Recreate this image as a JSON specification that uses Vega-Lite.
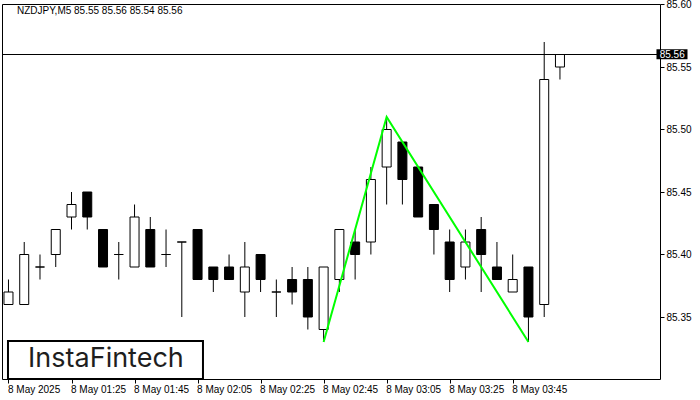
{
  "$schema": "https://vega.github.io/schema/vega-lite/v6.json",
  "width": 658,
  "height": 375,
  "autosize": {"type": "none"},
  "padding": {"left": 2, "top": 4, "right": 40, "bottom": 21},
  "background": "white",
  "config": {"view": {"stroke": "black", "strokeWidth": 1}, "font": "Liberation Sans"},
  "title": {"text": "NZDJPY,M5  85.55 85.56 85.54 85.56", "anchor": "start", "frame": "group", "orient": "top", "offset": -16, "dx": 15, "fontSize": 10, "fontWeight": "normal", "font": "Liberation Sans", "color": "black"},
  "datasets": {
    "candles": [
      {"t": "2025-05-08T01:05:00Z", "open": 85.36, "high": 85.38, "low": 85.36, "close": 85.37},
      {"t": "2025-05-08T01:10:00Z", "open": 85.36, "high": 85.41, "low": 85.36, "close": 85.40},
      {"t": "2025-05-08T01:15:00Z", "open": 85.39, "high": 85.40, "low": 85.38, "close": 85.39},
      {"t": "2025-05-08T01:20:00Z", "open": 85.40, "high": 85.42, "low": 85.39, "close": 85.42},
      {"t": "2025-05-08T01:25:00Z", "open": 85.43, "high": 85.45, "low": 85.42, "close": 85.44},
      {"t": "2025-05-08T01:30:00Z", "open": 85.45, "high": 85.45, "low": 85.42, "close": 85.43},
      {"t": "2025-05-08T01:35:00Z", "open": 85.42, "high": 85.42, "low": 85.39, "close": 85.39},
      {"t": "2025-05-08T01:40:00Z", "open": 85.40, "high": 85.41, "low": 85.38, "close": 85.40},
      {"t": "2025-05-08T01:45:00Z", "open": 85.39, "high": 85.44, "low": 85.39, "close": 85.43},
      {"t": "2025-05-08T01:50:00Z", "open": 85.42, "high": 85.43, "low": 85.39, "close": 85.39},
      {"t": "2025-05-08T01:55:00Z", "open": 85.40, "high": 85.42, "low": 85.39, "close": 85.40},
      {"t": "2025-05-08T02:00:00Z", "open": 85.41, "high": 85.41, "low": 85.35, "close": 85.41},
      {"t": "2025-05-08T02:05:00Z", "open": 85.42, "high": 85.42, "low": 85.38, "close": 85.38},
      {"t": "2025-05-08T02:10:00Z", "open": 85.39, "high": 85.39, "low": 85.37, "close": 85.38},
      {"t": "2025-05-08T02:15:00Z", "open": 85.39, "high": 85.40, "low": 85.38, "close": 85.38},
      {"t": "2025-05-08T02:20:00Z", "open": 85.37, "high": 85.41, "low": 85.35, "close": 85.39},
      {"t": "2025-05-08T02:25:00Z", "open": 85.40, "high": 85.40, "low": 85.37, "close": 85.38},
      {"t": "2025-05-08T02:30:00Z", "open": 85.37, "high": 85.38, "low": 85.35, "close": 85.37},
      {"t": "2025-05-08T02:35:00Z", "open": 85.38, "high": 85.39, "low": 85.36, "close": 85.37},
      {"t": "2025-05-08T02:40:00Z", "open": 85.38, "high": 85.39, "low": 85.34, "close": 85.35},
      {"t": "2025-05-08T02:45:00Z", "open": 85.34, "high": 85.39, "low": 85.33, "close": 85.39},
      {"t": "2025-05-08T02:50:00Z", "open": 85.38, "high": 85.42, "low": 85.37, "close": 85.42},
      {"t": "2025-05-08T02:55:00Z", "open": 85.41, "high": 85.42, "low": 85.38, "close": 85.40},
      {"t": "2025-05-08T03:00:00Z", "open": 85.41, "high": 85.47, "low": 85.40, "close": 85.46},
      {"t": "2025-05-08T03:05:00Z", "open": 85.47, "high": 85.51, "low": 85.44, "close": 85.50},
      {"t": "2025-05-08T03:10:00Z", "open": 85.49, "high": 85.49, "low": 85.44, "close": 85.46},
      {"t": "2025-05-08T03:15:00Z", "open": 85.47, "high": 85.47, "low": 85.43, "close": 85.43},
      {"t": "2025-05-08T03:20:00Z", "open": 85.44, "high": 85.44, "low": 85.40, "close": 85.42},
      {"t": "2025-05-08T03:25:00Z", "open": 85.41, "high": 85.42, "low": 85.37, "close": 85.38},
      {"t": "2025-05-08T03:30:00Z", "open": 85.39, "high": 85.42, "low": 85.38, "close": 85.41},
      {"t": "2025-05-08T03:35:00Z", "open": 85.42, "high": 85.43, "low": 85.37, "close": 85.40},
      {"t": "2025-05-08T03:40:00Z", "open": 85.39, "high": 85.41, "low": 85.38, "close": 85.38},
      {"t": "2025-05-08T03:45:00Z", "open": 85.37, "high": 85.40, "low": 85.37, "close": 85.38},
      {"t": "2025-05-08T03:50:00Z", "open": 85.39, "high": 85.39, "low": 85.33, "close": 85.35},
      {"t": "2025-05-08T03:55:00Z", "open": 85.36, "high": 85.57, "low": 85.35, "close": 85.54},
      {"t": "2025-05-08T04:00:00Z", "open": 85.55, "high": 85.56, "low": 85.54, "close": 85.56}
    ],
    "pattern": [
      {"t": "2025-05-08T02:45:00Z", "p": 85.33},
      {"t": "2025-05-08T03:05:00Z", "p": 85.51},
      {"t": "2025-05-08T03:50:00Z", "p": 85.33}
    ],
    "last": [{"price": 85.56, "label": "85.56"}]
  },
  "layer": [
    {
      "data": {"name": "candles"},
      "mark": {"type": "rule", "stroke": "black", "strokeWidth": 1, "clip": true},
      "encoding": {
        "x": {
          "field": "t", "type": "temporal", "title": null,
          "scale": {"type": "utc", "domain": [1746666271875, 1746678609375]},
          "axis": {
            "orient": "bottom", "title": null, "grid": false, "domain": false,
            "values": [1746666300000, 1746667500000, 1746668700000, 1746669900000, 1746671100000, 1746672300000, 1746673500000, 1746674700000, 1746675900000],
            "labelExpr": "time(datum.value) < 1746666400000 ? '8 May 2025' : utcFormat(datum.value, '%-d %b %H:%M')",
            "labelAlign": "left", "labelBaseline": "top", "labelPadding": 1, "labelOffset": -1,
            "tickSize": 4, "tickColor": "black", "labelColor": "black", "labelFontSize": 10,
            "labelFont": "Liberation Sans", "labelFlush": false, "labelOverlap": false
          }
        },
        "y": {
          "field": "low", "type": "quantitative", "title": null,
          "scale": {"domain": [85.3004, 85.6004], "zero": false, "nice": false},
          "axis": {
            "orient": "right", "title": null, "grid": false, "domain": false,
            "values": [85.35, 85.4, 85.45, 85.5, 85.55, 85.6], "format": ".2f",
            "tickSize": 4, "tickColor": "black", "labelPadding": 2, "labelColor": "black",
            "labelFontSize": 10, "labelFont": "Liberation Sans", "labelFlush": false, "labelBaseline": "middle"
          }
        },
        "y2": {"field": "high"}
      }
    },
    {
      "data": {"name": "candles"},
      "mark": {"type": "bar", "size": 9, "stroke": "black", "strokeWidth": 1, "clip": true},
      "encoding": {
        "x": {"field": "t", "type": "temporal", "title": null},
        "y": {"field": "open", "type": "quantitative", "title": null},
        "y2": {"field": "close"},
        "fill": {"condition": {"test": "datum.close > datum.open", "value": "white"}, "value": "black"}
      }
    },
    {
      "data": {"name": "last"},
      "mark": {"type": "rule", "stroke": "black", "strokeWidth": 1},
      "encoding": {"y": {"field": "price", "type": "quantitative", "title": null}}
    },
    {
      "data": {"name": "pattern"},
      "mark": {"type": "line", "stroke": "#00ff00", "strokeWidth": 2, "clip": true},
      "encoding": {
        "x": {"field": "t", "type": "temporal", "title": null},
        "y": {"field": "p", "type": "quantitative", "title": null}
      }
    },
    {
      "data": {"name": "last"},
      "mark": {"type": "rect", "fill": "black", "clip": false},
      "encoding": {
        "x": {"datum": 1746678637500, "type": "temporal", "title": null},
        "x2": {"datum": 1746679228125},
        "y": {"datum": 85.5642, "type": "quantitative", "title": null},
        "y2": {"datum": 85.5562}
      }
    },
    {
      "data": {"name": "last"},
      "mark": {"type": "text", "color": "white", "fontSize": 10, "font": "Liberation Sans", "align": "center", "baseline": "middle", "clip": false},
      "encoding": {
        "x": {"datum": 1746678937500, "type": "temporal", "title": null},
        "y": {"field": "price", "type": "quantitative", "title": null},
        "text": {"field": "label"}
      }
    },
    {
      "data": {"name": "last"},
      "mark": {"type": "rect", "fill": "white", "stroke": "black", "strokeWidth": 2, "clip": false},
      "encoding": {
        "x": {"datum": 1746666290625, "type": "temporal", "title": null},
        "x2": {"datum": 1746670003125},
        "y": {"datum": 85.3308, "type": "quantitative", "title": null},
        "y2": {"datum": 85.3004}
      }
    },
    {
      "data": {"name": "last"},
      "mark": {"type": "text", "color": "#1e1e1e", "fontSize": 27, "font": "Inter", "fontWeight": 400, "align": "center", "baseline": "middle", "clip": false},
      "encoding": {
        "x": {"datum": 1746668156250, "type": "temporal", "title": null},
        "y": {"datum": 85.3164, "type": "quantitative", "title": null},
        "text": {"value": "InstaFintech"}
      }
    }
  ]
}
